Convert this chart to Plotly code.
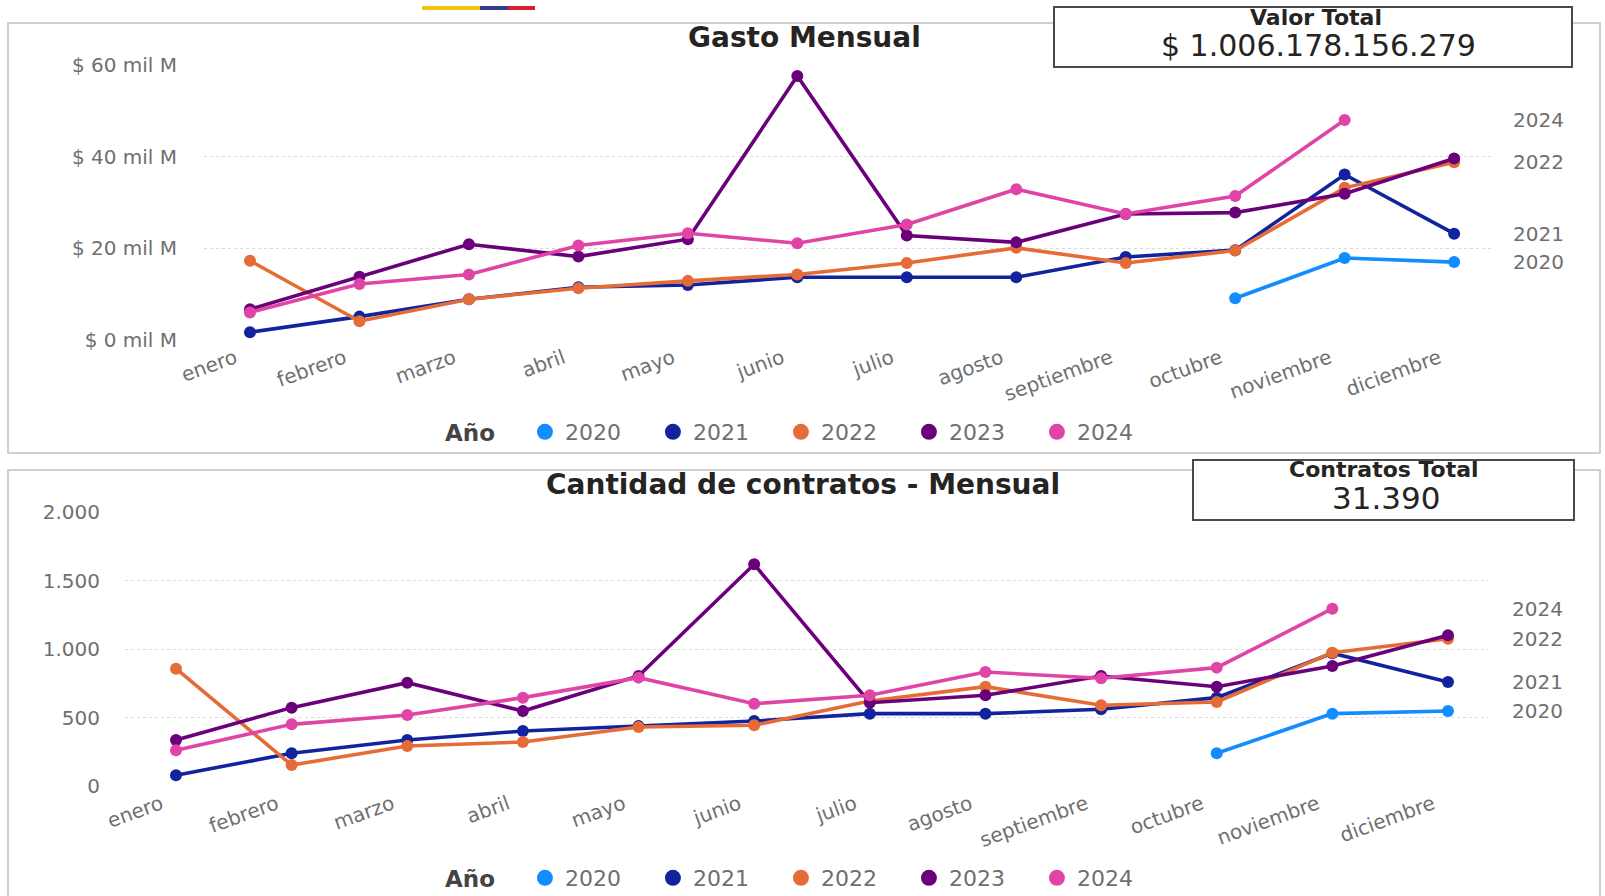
import plotly.graph_objects as go

meses = ["enero", "febrero", "marzo", "abril", "mayo", "junio", "julio",
         "agosto", "septiembre", "octubre", "noviembre", "diciembre"]
anios = ["2020", "2021", "2022", "2023", "2024"]
colores = ["#118DFF", "#12239E", "#E66C37", "#6B007B", "#E044A7"]

# Gasto mensual (miles de millones de pesos, "mil M")
gasto_2020 = [None, None, None, None, None, None, None, None, None, 9.1, 17.9, 17.0]
gasto_2021 = [1.7, 5.1, 8.9, 11.5, 12.0, 13.7, 13.7, 13.7, 18.1, 19.6, 36.1, 23.2]
gasto_2022 = [17.3, 4.1, 8.9, 11.3, 12.9, 14.3, 16.8, 20.1, 16.8, 19.5, 33.2, 38.8]
gasto_2023 = [6.7, 13.8, 20.9, 18.2, 22.0, 57.6, 22.8, 21.3, 27.5, 27.8, 31.9, 39.6]
gasto_2024 = [6.0, 12.2, 14.3, 20.6, 23.3, 21.1, 25.2, 32.9, 27.5, 31.4, 48.0, None]

# Cantidad de contratos mensual
contratos_2020 = [None, None, None, None, None, None, None, None, None, 239, 528, 547]
contratos_2021 = [78, 239, 336, 401, 438, 474, 528, 528, 560, 645, 969, 759]
contratos_2022 = [856, 153, 292, 321, 431, 443, 620, 725, 589, 613, 973, 1075]
contratos_2023 = [336, 572, 754, 547, 803, 1618, 608, 662, 803, 725, 876, 1100]
contratos_2024 = [261, 450, 518, 645, 791, 601, 662, 832, 786, 864, 1294, None]

gasto_ticks = [0, 20, 40, 60]
gasto_ticktext = ["$ 0 mil M", "$ 20 mil M", "$ 40 mil M", "$ 60 mil M"]
contratos_ticks = [0, 500, 1000, 1500, 2000]
contratos_ticktext = ["0", "500", "1.000", "1.500", "2.000"]

etiquetas_fin = ["2020", "2021", "2022", "2024"]

valor_total = "$ 1.006.178.156.279"
contratos_total = "31.390"

gasto = [gasto_2020, gasto_2021, gasto_2022, gasto_2023, gasto_2024]
contratos = [contratos_2020, contratos_2021, contratos_2022, contratos_2023, contratos_2024]

W, H = 1605, 896
def px(x):
    return x / W
def py(y):
    return 1 - y / H

FONT = "DejaVu Sans"
GRAY = "#6f6f6f"
DARK = "#252423"

fig = go.Figure()

xidx = list(range(len(meses)))

for anio, col, g, c in zip(anios, colores, gasto, contratos):
    fig.add_trace(go.Scatter(x=xidx, y=g, mode="lines+markers", name=anio,
                             line=dict(color=col, width=3.6),
                             marker=dict(color=col, size=12),
                             showlegend=False, xaxis="x", yaxis="y",
                             cliponaxis=False, connectgaps=False))
    fig.add_trace(go.Scatter(x=xidx, y=c, mode="lines+markers", name=anio,
                             line=dict(color=col, width=3.6),
                             marker=dict(color=col, size=12),
                             showlegend=False, xaxis="x2", yaxis="y2",
                             cliponaxis=False, connectgaps=False))
    # legend-only entries (circle markers like the reference legend)
    fig.add_trace(go.Scatter(x=[None], y=[None], mode="markers", name=anio,
                             marker=dict(color=col, size=16),
                             legend="legend", xaxis="x", yaxis="y"))
    fig.add_trace(go.Scatter(x=[None], y=[None], mode="markers", name=anio,
                             marker=dict(color=col, size=16),
                             legend="legend2", xaxis="x2", yaxis="y2"))

common_x = dict(tickmode="array", tickvals=xidx, ticktext=meses, tickangle=-20,
                showgrid=False, zeroline=False, showline=False,
                tickfont=dict(family=FONT, size=20, color=GRAY),
                ticklabelstandoff=2, ticklabelshift=-15, automargin=False)
common_y = dict(showgrid=True, gridcolor="#d9d9d9", griddash="dot", gridwidth=1,
                zeroline=False, showline=False, automargin=False,
                tickfont=dict(family=FONT, size=20, color=GRAY))

leg_common = dict(orientation="h", x=px(443), xanchor="left", yanchor="middle",
                  title=dict(text="<b>Año</b>&nbsp;&nbsp;&nbsp;",
                             font=dict(family=FONT, size=23, color="#444444")),
                  font=dict(family=FONT, size=22, color=GRAY),
                  itemwidth=30, entrywidth=83, bgcolor="rgba(0,0,0,0)")

fig.update_layout(
    width=W, height=H,
    margin=dict(l=0, r=0, t=0, b=0, autoexpand=False),
    paper_bgcolor="white", plot_bgcolor="white",
    showlegend=True,
    xaxis=dict(domain=[px(204), px(1491)], range=[-0.42, 11.337], anchor="y", **common_x),
    yaxis=dict(domain=[py(340), py(65)], range=[0, 60], anchor="x",
               tickvals=gasto_ticks, ticktext=gasto_ticktext,
               ticklabelstandoff=26, **common_y),
    xaxis2=dict(domain=[px(125), px(1488)], range=[-0.441, 11.346], anchor="y2", **common_x),
    yaxis2=dict(domain=[py(786), py(512)], range=[0, 2000], anchor="x2",
                tickvals=contratos_ticks, ticktext=contratos_ticktext,
                ticklabelstandoff=24, **common_y),
    legend=dict(y=py(432), **leg_common),
    legend2=dict(y=py(878), **leg_common),
)

shapes = []
# panel borders
shapes.append(dict(type="rect", xref="paper", yref="paper",
                   x0=px(8), x1=px(1600), y0=py(453), y1=py(23),
                   line=dict(color="#cfcfcf", width=2), fillcolor="rgba(0,0,0,0)", layer="below"))
shapes.append(dict(type="rect", xref="paper", yref="paper",
                   x0=px(8), x1=px(1600), y0=py(905), y1=py(470),
                   line=dict(color="#cfcfcf", width=2), fillcolor="rgba(0,0,0,0)", layer="below"))
# flag bar
for x0, x1, col in [(422, 480, "#F6C513"), (480, 508, "#2F3C8E"), (508, 535, "#DC1F2E")]:
    shapes.append(dict(type="line", xref="paper", yref="paper",
                       x0=px(x0), x1=px(x1), y0=py(8), y1=py(8),
                       line=dict(color=col, width=4)))
# KPI boxes
shapes.append(dict(type="rect", xref="paper", yref="paper",
                   x0=px(1054), x1=px(1572), y0=py(67), y1=py(7),
                   line=dict(color="#4a4a4a", width=2), fillcolor="white"))
shapes.append(dict(type="rect", xref="paper", yref="paper",
                   x0=px(1193), x1=px(1574), y0=py(520), y1=py(460),
                   line=dict(color="#4a4a4a", width=2), fillcolor="white"))
fig.update_layout(shapes=shapes)

def txt(text, x, y, size, color=DARK):
    return dict(text=text, xref="paper", yref="paper", x=px(x), y=py(y),
                xanchor="center", yanchor="middle", showarrow=False,
                font=dict(family=FONT, size=size, color=color))

ann = [
    txt("<b>Gasto Mensual</b>", 805, 37, 28),
    txt("<b>Cantidad de contratos - Mensual</b>", 803, 484, 28),
    txt("<b>Valor Total</b>", 1316, 17, 22),
    txt(valor_total, 1318, 45, 30),
    txt("<b>Contratos Total</b>", 1384, 469, 22),
    txt(contratos_total, 1386, 498, 31),
]

# series labels at the right edge, at each series' last value
for anio, g, c in zip(anios, gasto, contratos):
    if anio not in etiquetas_fin:
        continue
    last_g = [v for v in g if v is not None][-1]
    last_c = [v for v in c if v is not None][-1]
    ann.append(dict(text=anio, xref="x domain", yref="y", x=1, y=last_g,
                    xanchor="left", yanchor="middle", xshift=20, showarrow=False,
                    font=dict(family=FONT, size=20, color=GRAY)))
    ann.append(dict(text=anio, xref="x2 domain", yref="y2", x=1, y=last_c,
                    xanchor="left", yanchor="middle", xshift=22, showarrow=False,
                    font=dict(family=FONT, size=20, color=GRAY)))
fig.update_layout(annotations=ann)

fig.write_html("out.html", config={"displayModeBar": False},
               post_script="document.body.style.margin='0';document.body.style.overflow='hidden';")
